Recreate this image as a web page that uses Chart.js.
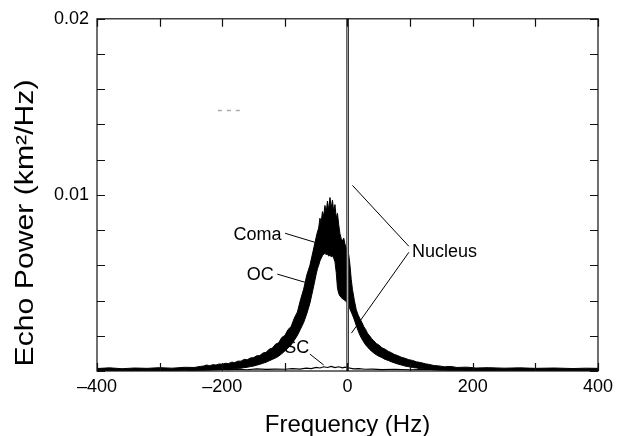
<!DOCTYPE html>
<html>
<head>
<meta charset="utf-8">
<script src="https://cdn.jsdelivr.net/npm/chart.js@4.4.1/dist/chart.umd.min.js"></script>
<style>
  html, body { margin: 0; padding: 0; background: #fff; }
  #wrap { width: 618px; height: 436px; }
</style>
</head>
<body>
<div id="wrap"><canvas id="echoChart"></canvas></div>
<script>
// OC echo: the trace is a dense noisy band, kept as its upper and lower edge
var ocFreq = [
  -400, -380, -360, -340, -320, -300, -280, -260, -245, -235,
  -230, -225, -220, -215, -210, -205, -200, -195, -190, -185, -180, -175, -170,
  -165, -160, -155, -150, -145, -140, -135, -130, -125, -120, -115, -110,
  -105, -100, -95, -90, -85, -80, -75, -70, -65, -60, -55, -50,
  -48, -46, -44, -42, -40, -38, -36, -34, -32, -30, -28, -26, -24,
  -22, -20, -18, -16, -14, -12, -10, -8, -6, -4, -2, 0,
  2, 4, 6, 8, 11, 14, 17, 20, 23, 26, 29, 32, 35, 38, 42, 46, 50,
  55, 60, 65, 70, 75, 80, 86, 92, 98, 104, 110, 117, 124, 131, 138, 146, 155,
  165, 175, 190, 205, 225, 250, 275, 300, 330, 360, 380, 400
];
var ocUpper = [
  0.00014, 0.00018, 0.00013, 0.00017, 0.00015, 0.00019, 0.00016, 0.00021, 0.00020, 0.00026,
  0.00028, 0.00034, 0.00030, 0.00036, 0.00034, 0.00040, 0.00038, 0.00044, 0.00042, 0.00050, 0.00048, 0.00056, 0.00056,
  0.00066, 0.00064, 0.00074, 0.00076, 0.00086, 0.00088, 0.00102, 0.00106, 0.00124, 0.00130, 0.00152, 0.00160,
  0.00190, 0.00202, 0.00235, 0.00252, 0.00300, 0.00335, 0.00405, 0.00465, 0.00545, 0.00600, 0.00680, 0.00760,
  0.00790, 0.00812, 0.00868, 0.00842, 0.00905, 0.00880, 0.00940, 0.00900, 0.00965, 0.00915, 0.00985, 0.00925, 0.00970,
  0.00905, 0.00945, 0.00870, 0.00895, 0.00830, 0.00780, 0.00752, 0.00738, 0.00755, 0.00720, 0.00700, 0.00690,
  0.00660, 0.00600, 0.00520, 0.00462, 0.00400, 0.00348, 0.00318, 0.00296, 0.00276, 0.00252, 0.00236, 0.00214, 0.00202, 0.00186, 0.00172, 0.00156, 0.00148,
  0.00132, 0.00124, 0.00112, 0.00104, 0.00094, 0.00088, 0.00078, 0.00072, 0.00064, 0.00060, 0.00052, 0.00048, 0.00041, 0.00037, 0.00031, 0.00029, 0.00024,
  0.00026, 0.00020, 0.00022, 0.00017, 0.00019, 0.00016, 0.00018, 0.00015, 0.00017, 0.00014, 0.00016, 0.00015
];
var ocLower = [
  0.00002, 0.00003, 0.00002, 0.00003, 0.00002, 0.00003, 0.00003, 0.00004, 0.00003, 0.00004,
  0.00004, 0.00005, 0.00005, 0.00006, 0.00006, 0.00007, 0.00008, 0.00010, 0.00010, 0.00012, 0.00013, 0.00015, 0.00016,
  0.00019, 0.00021, 0.00025, 0.00028, 0.00033, 0.00038, 0.00044, 0.00050, 0.00058, 0.00066, 0.00074, 0.00084,
  0.00098, 0.00114, 0.00130, 0.00148, 0.00174, 0.00202, 0.00238, 0.00275, 0.00325, 0.00385, 0.00465, 0.00550,
  0.00580, 0.00600, 0.00625, 0.00640, 0.00655, 0.00662, 0.00668, 0.00660, 0.00665, 0.00652, 0.00660, 0.00648, 0.00655,
  0.00640, 0.00620, 0.00560, 0.00470, 0.00440, 0.00425, 0.00418, 0.00410, 0.00405, 0.00400, 0.00395, 0.00385,
  0.00370, 0.00350, 0.00335, 0.00318, 0.00290, 0.00258, 0.00228, 0.00202, 0.00182, 0.00164, 0.00148, 0.00136, 0.00124, 0.00114, 0.00102, 0.00092, 0.00084,
  0.00076, 0.00066, 0.00060, 0.00052, 0.00046, 0.00040, 0.00034, 0.00028, 0.00024, 0.00020, 0.00017, 0.00013, 0.00011, 0.00009, 0.00007, 0.00005, 0.00005,
  0.00004, 0.00004, 0.00003, 0.00003, 0.00003, 0.00002, 0.00002, 0.00002, 0.00002, 0.00002, 0.00002, 0.00002
];

// SC echo: low trace near the baseline
var scFreq = [
  -400, -385, -370, -355, -340, -325, -310, -295, -280, -265,
  -250, -235, -220, -205, -190, -175, -160, -145, -130, -115,
  -100, -88, -76, -66, -58, -50, -44, -38, -32, -26,
  -20, -14, -8, -4, 4, 10, 18, 28, 40, 55,
  75, 100, 130, 160, 190, 220, 250, 280, 310, 340,
  370, 400
];
var scPower = [
  0.00006, 0.00009, 0.00005, 0.00008, 0.00006, 0.00010, 0.00005, 0.00008, 0.00007, 0.00010,
  0.00006, 0.00009, 0.00007, 0.00011, 0.00008, 0.00010, 0.00007, 0.00012, 0.00009, 0.00011,
  0.00010, 0.00013, 0.00011, 0.00016, 0.00014, 0.00020, 0.00017, 0.00024, 0.00020, 0.00026,
  0.00019, 0.00024, 0.00018, 0.00022, 0.00016, 0.00012, 0.00014, 0.00010, 0.00011, 0.00008,
  0.00010, 0.00007, 0.00009, 0.00006, 0.00008, 0.00007, 0.00009, 0.00006, 0.00008, 0.00006,
  0.00008, 0.00006
];

// nucleus: narrow spike at 0 Hz, runs off the top of the plot
var nucleusFreq = [-1.6, -1.2, 1.2, 1.6];
var nucleusPower = [0, 0.03, 0.03, 0];

var xTickLabels = [-400, -200, 0, 200, 400];
var yTickLabels = [0.01, 0.02];

var FONT = '"Liberation Sans", Arial, Helvetica, sans-serif';
Chart.defaults.font.family = FONT;
Chart.defaults.color = '#000';

function toPoints(xs, ys) {
  return xs.map(function (x, i) { return { x: x, y: ys[i] }; });
}

function pickLabel(v, list, fmt) {
  for (var i = 0; i < list.length; i++) {
    if (Math.abs(v - list[i]) < 1e-9) return fmt(list[i]);
  }
  return '';
}

// frame with inward ticks, axis titles and the callouts
var framePlugin = {
  id: 'framePlugin',
  afterDraw: function (chart) {
    var ctx = chart.ctx, a = chart.chartArea;
    var xs = chart.scales.x, ys = chart.scales.y;
    var px = function (v) { return xs.getPixelForValue(v); };
    var py = function (v) { return ys.getPixelForValue(v); };

    ctx.save();
    ctx.strokeStyle = '#111';
    ctx.lineWidth = 1.2;
    ctx.strokeRect(a.left, a.top, a.right - a.left, a.bottom - a.top);

    ctx.beginPath();
    xs.ticks.forEach(function (t) {
      var x = Math.round(px(t.value)) + 0.5;
      ctx.moveTo(x, a.bottom); ctx.lineTo(x, a.bottom - 8);
      ctx.moveTo(x, a.top); ctx.lineTo(x, a.top + 8);
    });
    ys.ticks.forEach(function (t) {
      var y = Math.round(py(t.value)) + 0.5;
      ctx.moveTo(a.left, y); ctx.lineTo(a.left + 8, y);
      ctx.moveTo(a.right, y); ctx.lineTo(a.right - 8, y);
    });
    ctx.stroke();

    // leader lines
    ctx.lineWidth = 1;
    ctx.strokeStyle = '#000';
    var leaders = [
      [-99.6, 0.00782, -52.2, 0.00731],
      [-112, 0.0055, -68, 0.00504],
      [-60, 0.00096, -38, 0.00034],
      [98, 0.00708, 7.9, 0.01054],
      [98, 0.00674, 6.3, 0.00215]
    ];
    ctx.beginPath();
    leaders.forEach(function (l) {
      ctx.moveTo(px(l[0]), py(l[1]));
      ctx.lineTo(px(l[2]), py(l[3]));
    });
    ctx.stroke();

    // faint dashes in the upper left
    ctx.save();
    ctx.strokeStyle = '#aaa';
    ctx.lineWidth = 1.5;
    ctx.setLineDash([4, 5]);
    ctx.beginPath();
    ctx.moveTo(px(-207), py(0.01479));
    ctx.lineTo(px(-172), py(0.01479));
    ctx.stroke();
    ctx.restore();

    ctx.fillStyle = '#000';
    ctx.textAlign = 'left';
    ctx.textBaseline = 'alphabetic';
    ctx.font = '18px ' + FONT;
    ctx.fillText('Coma', px(-182), py(0.00742));
    ctx.fillText('OC', px(-161), py(0.00516));
    ctx.fillText('SC', px(-101), py(0.00102));
    ctx.fillText('Nucleus', px(103), py(0.00646));

    // axis titles
    ctx.textAlign = 'center';
    ctx.font = '24px ' + FONT;
    ctx.fillText('Frequency (Hz)', (a.left + a.right) / 2, 432);

    ctx.save();
    ctx.translate(33, 223);
    ctx.rotate(-Math.PI / 2);
    ctx.font = '25px ' + FONT;
    var yTitle = 'Echo Power (km\u00b2/Hz)';
    var w = ctx.measureText(yTitle).width;
    ctx.scale(287 / w, 1);
    ctx.fillText(yTitle, 0, 0);
    ctx.restore();

    ctx.restore();
  }
};

var ctx = document.getElementById('echoChart').getContext('2d');
var echoChart = new Chart(ctx, {
  type: 'line',
  data: {
    datasets: [{
      label: 'Nucleus',
      data: toPoints(nucleusFreq, nucleusPower),
      borderColor: '#3a3a3a',
      borderWidth: 1,
      backgroundColor: '#d8d8d8',
      fill: 'origin',
      pointRadius: 0
    }, {
      label: 'SC',
      data: toPoints(scFreq, scPower),
      borderColor: '#000',
      borderWidth: 1.2,
      fill: false,
      pointRadius: 0
    }, {
      label: 'OC upper',
      data: toPoints(ocFreq, ocUpper),
      borderColor: '#000',
      borderWidth: 1,
      backgroundColor: '#000',
      fill: '+1',
      pointRadius: 0
    }, {
      label: 'OC lower',
      data: toPoints(ocFreq, ocLower),
      borderColor: '#000',
      borderWidth: 1,
      fill: false,
      pointRadius: 0
    }]
  },
  options: {
    responsive: true,
    maintainAspectRatio: false,
    animation: false,
    layout: { padding: { left: 0, right: 15, top: 18, bottom: 0 } },
    plugins: {
      legend: { display: false },
      tooltip: { enabled: false }
    },
    scales: {
      x: {
        type: 'linear',
        min: -400,
        max: 400,
        afterFit: function (s) { s.height = 65; },
        grid: { display: false, drawTicks: false },
        border: { display: false },
        ticks: {
          stepSize: 100,
          autoSkip: false,
          maxRotation: 0,
          padding: 5,
          font: { size: 18 },
          callback: function (v) {
            return pickLabel(v, xTickLabels, function (n) { return n < 0 ? '\u2013' + Math.abs(n) : String(n); });
          }
        }
      },
      y: {
        min: 0,
        max: 0.02,
        afterFit: function (s) { s.width = 97; },
        grid: { display: false, drawTicks: false },
        border: { display: false },
        ticks: {
          stepSize: 0.002,
          autoSkip: false,
          padding: 8,
          font: { size: 18 },
          callback: function (v) {
            return pickLabel(v, yTickLabels, function (n) { return n.toFixed(2); });
          }
        }
      }
    }
  },
  plugins: [framePlugin]
});
</script>
</body>
</html>
